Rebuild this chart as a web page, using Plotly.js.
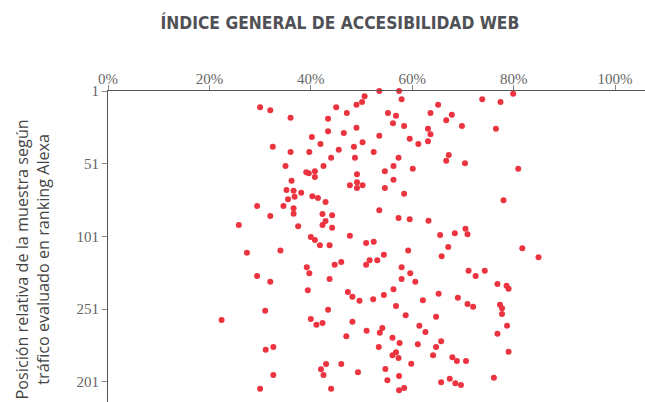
<!DOCTYPE html>
<html>
<head>
<meta charset="utf-8">
<script src="https://cdn.plot.ly/plotly-3.0.1.min.js"></script>
<style>html,body{margin:0;padding:0;background:#fff;}#chart{width:645px;height:402px;}</style>
</head>
<body>
<div id="chart"></div>
<script>
// Índice de accesibilidad (%) por sitio
const accesibilidad = [
30.0,32.0,36.0,45.0,47.1,49.0,50.1,50.6,53.5,56.2,57.4,57.9,55.2,56.8,56.2,58.4,43.4,43.4,46.5,49.0,
40.2,41.9,50.2,53.5,59.5,61.2,32.5,36.0,39.7,45.5,48.5,52.4,44.0,48.7,57.3,35.0,42.5,39.1,39.6,40.8,
40.8,49.1,54.6,56.3,60.1,36.2,49.1,47.7,50.2,49.1,54.6,56.3,35.2,36.6,38.1,36.8,35.5,40.3,41.4,42.9,
58.4,29.4,34.6,36.6,36.6,32.0,42.3,44.2,42.9,42.3,44.2,37.5,25.8,53.5,57.3,59.5,40.0,40.8,47.7,50.9,
52.4,41.8,43.7,34.0,59.2,27.4,54.4,39.2,39.7,44.7,46.0,50.9,51.6,53.1,57.9,59.6,57.9,60.6,29.4,32.0,
43.7,39.4,47.3,48.2,49.6,52.3,54.4,56.3,56.8,31.0,22.4,43.4,40.0,41.1,42.3,48.2,58.7,61.4,51.0,54.1,
53.6,47.0,56.1,57.5,61.1,53.4,31.1,32.6,56.1,56.8,57.3,59.8,43.0,42.0,42.5,46.0,49.3,54.7,57.4,55.1,
32.6,30.0,44.0,57.4,58.4,73.8,77.4,79.9,65.1,63.6,67.8,66.7,63.1,63.6,69.8,76.5,63.1,67.2,66.7,70.4,
80.9,78.0,63.2,70.5,65.5,68.4,70.9,67.1,81.7,84.9,65.8,71.1,72.5,74.3,76.8,78.6,79.0,65.2,62.1,69.0,
70.9,72.0,77.3,77.7,77.7,64.7,62.6,78.7,76.8,65.7,64.7,64.1,67.9,68.8,70.6,79.0,65.7,67.4,68.5,69.6,
76.1
];
// Posición relativa en el ranking Alexa
const posicion = [
12.2,14.3,19.4,12.2,16.1,10.4,8.6,4.6,1.0,-1.1,1.0,6.7,16.1,18.0,23.2,25.1,20.1,28.7,29.9,26.2,
32.6,37.5,36.3,31.7,33.8,37.5,39.3,43.0,43.0,41.4,39.3,43.0,46.9,46.9,46.9,52.6,52.6,56.8,57.6,56.2,
60.2,58.3,56.2,52.6,54.4,62.7,63.8,65.9,65.9,67.7,67.7,62.0,69.1,69.6,71.0,73.7,75.5,73.4,74.6,77.3,
71.6,80.1,80.1,81.7,85.4,87.0,85.6,86.5,90.4,93.2,95.0,94.1,93.2,83.1,88.4,89.2,101.4,103.5,100.5,105.5,
104.7,107.1,107.1,110.7,110.7,112.2,113.6,122.3,126.4,120.5,118.6,120.5,117.4,117.4,122.3,126.4,130.3,132.2,128.2,132.2,
130.3,138.1,139.2,142.5,145.2,144.3,141.3,137.4,148.9,152.1,158.5,151.4,157.8,161.7,160.6,159.7,155.3,162.4,165.9,164.0,
167.2,169.7,170.7,174.3,175.2,177.1,178.9,177.1,182.8,180.7,184.6,188.6,188.8,192.4,196.3,188.8,194.5,192.2,197.0,200.0,
196.3,205.8,205.8,206.9,205.3,6.7,8.6,2.9,10.4,16.1,17.3,21.2,26.9,30.8,25.1,26.9,35.6,45.0,48.9,50.7,
54.4,76.2,90.2,95.7,100.0,98.9,99.6,108.3,109.2,115.4,114.7,124.6,128.2,124.6,133.7,134.9,137.0,140.4,145.0,143.2,
147.5,149.4,148.0,150.5,154.4,156.2,166.8,162.4,167.9,173.2,177.1,182.8,184.2,186.7,186.7,180.3,201.4,198.9,202.0,203.2,
198.2
];
const xTicks = [0, 20, 40, 60, 80, 100];
const xTickText = ["0%", "20%", "40%", "60%", "80%", "100%"];
const yTicks = [1, 51, 101, 151, 201];
const yTickText = ["1", "51", "101", "251", "201"];

const trace = {
  type: 'scatter',
  mode: 'markers',
  x: accesibilidad,
  y: posicion,
  cliponaxis: false,
  hoverinfo: 'none',
  marker: {color: '#ec3340', size: 6, line: {width: 0}}
};

const tickFont = {family: '"Liberation Serif", "DejaVu Serif", serif', size: 15, color: '#666'};

const layout = {
  width: 645,
  height: 402,
  margin: {l: 108, r: 0, t: 91, b: 0, pad: 0},
  paper_bgcolor: '#ffffff',
  plot_bgcolor: '#ffffff',
  showlegend: false,
  title: {
    text: 'ÍNDICE GENERAL DE ACCESIBILIDAD WEB',
    x: 0.527, xanchor: 'center', xref: 'container',
    y: 0.942, yanchor: 'middle', yref: 'container',
    font: {family: '"DejaVu Sans Condensed", "DejaVu Sans", sans-serif', size: 17.3, color: '#505156', weight: 'bold'}
  },
  xaxis: {
    side: 'top',
    range: [0, 105.9],
    tickmode: 'array',
    tickvals: xTicks,
    ticktext: xTickText,
    showline: true, linecolor: '#555', linewidth: 1,
    ticks: 'outside', ticklen: 5, tickcolor: '#888', tickwidth: 1,
    ticklabelstandoff: -5,
    showgrid: false, zeroline: false,
    tickfont: tickFont
  },
  yaxis: {
    range: [214.9, 1],
    tickmode: 'array',
    tickvals: yTicks,
    ticktext: yTickText,
    showline: true, linecolor: '#555', linewidth: 1,
    ticks: 'outside', ticklen: 5, tickcolor: '#888', tickwidth: 1,
    showgrid: false, zeroline: false,
    tickfont: tickFont
  },
  annotations: [{
    text: 'Posición relativa de la muestra según<br>tráfico evaluado en ranking Alexa',
    xref: 'paper', yref: 'paper',
    x: -0.14, y: 0.458,
    xanchor: 'center', yanchor: 'middle',
    textangle: -90,
    showarrow: false,
    align: 'center',
    font: {family: '"Open Sans", sans-serif', size: 16.2, color: '#444'}
  }]
};

Plotly.newPlot('chart', [trace], layout, {staticPlot: true, displayModeBar: false});
</script>
</body>
</html>
